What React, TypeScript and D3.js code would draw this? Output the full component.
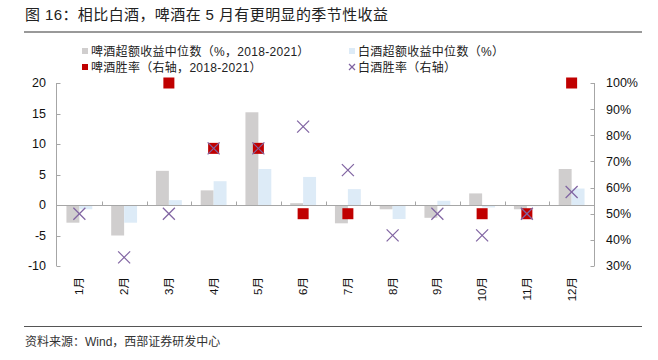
import React from 'react';
import * as d3 from 'd3';

const months = ['1月', '2月', '3月', '4月', '5月', '6月', '7月', '8月', '9月', '10月', '11月', '12月'];
const beerExcess = [-2.9, -5.0, 5.6, 2.4, 15.2, 0.3, -3.0, -0.7, -2.1, 1.9, -0.7, 5.9];
const baijiuExcess = [-0.7, -2.9, 0.8, 3.9, 5.9, 4.6, 2.6, -2.3, 0.7, -0.4, -0.2, 2.7];
const beerWin = [0.25, 0.25, 1.0, 0.75, 0.75, 0.5, 0.5, 0.25, 0.25, 0.5, 0.5, 1.0];
const baijiuWin = [0.5, 0.333, 0.5, 0.75, 0.75, 0.833, 0.667, 0.417, 0.5, 0.417, 0.5, 0.583];
const leftTicks = [-10, -5, 0, 5, 10, 15, 20];
const rightTicks = [0.3, 0.4, 0.5, 0.6, 0.7, 0.8, 0.9, 1.0];

const FONT = '"Liberation Sans", Arial, "Noto Sans CJK SC", sans-serif';
const GREY = '#D0CECE';
const BLUE = '#DDEBF7';
const RED = '#C00000';
const PURPLE = '#8064A2';
const AXIS = '#A6A6A6';

const App = () => {
  const W = 658;
  const H = 360;
  const plot = { left: 57, right: 594, top: 83, bottom: 266 };

  // scales
  const x = d3.scaleBand<string>().domain(months).range([plot.left, plot.right]).padding(0);
  const sub = d3
    .scaleBand<string>()
    .domain(['beer', 'baijiu'])
    .range([0, x.bandwidth()])
    .paddingInner(0)
    .paddingOuter(0.73);
  const yL = d3.scaleLinear().domain([-10, 20]).range([plot.bottom, plot.top]);
  const yR = d3.scaleLinear().domain([0.3, 1.0]).range([plot.bottom, plot.top]);
  const y0 = yL(0);
  const cx = (m: string) => (x(m) as number) + x.bandwidth() / 2;

  const sq = 11;
  const xs = 6;

  const cross = (px: number, py: number, r: number, key: string) => (
    <g key={key} stroke={PURPLE} strokeWidth={1.2}>
      <line x1={px - r} y1={py - r} x2={px + r} y2={py + r} />
      <line x1={px - r} y1={py + r} x2={px + r} y2={py - r} />
    </g>
  );

  return (
    <svg
      width={W}
      height={H}
      style={{ position: 'absolute', left: 0, top: 0, background: '#fff' }}
      fontFamily={FONT}
    >
      {/* title */}
      <text x={25} y={20} fontSize={15} letterSpacing={0.4} fill="#222">
        图 16：相比白酒，啤酒在 5 月有更明显的季节性收益
      </text>
      <line x1={24} x2={642} y1={32} y2={32} stroke="#999" strokeWidth={2} />

      {/* legend */}
      <g fontSize={12} letterSpacing={0.3} fill="#222">
        <rect x={82} y={48} width={6} height={6} fill={GREY} />
        <text x={91} y={55.5}>啤酒超额收益中位数（%，2018-2021）</text>
        <rect x={349} y={48} width={6} height={6} fill={BLUE} />
        <text x={358} y={55.5}>白酒超额收益中位数（%）</text>
        <rect x={82} y={64} width={6} height={6} fill={RED} />
        <text x={91} y={71.5}>啤酒胜率（右轴，2018-2021）</text>
        {cross(352, 67, 3, 'lg')}
        <text x={358} y={71.5}>白酒胜率（右轴）</text>
      </g>

      {/* bars */}
      {months.map((m, i) => {
        const bx = x(m) as number;
        return (
          <g key={m}>
            <rect
              x={bx + (sub('beer') as number)}
              y={Math.min(yL(beerExcess[i]), y0)}
              width={sub.bandwidth()}
              height={Math.abs(yL(beerExcess[i]) - y0)}
              fill={GREY}
            />
            <rect
              x={bx + (sub('baijiu') as number)}
              y={Math.min(yL(baijiuExcess[i]), y0)}
              width={sub.bandwidth()}
              height={Math.abs(yL(baijiuExcess[i]) - y0)}
              fill={BLUE}
            />
          </g>
        );
      })}

      {/* axes */}
      <g stroke={AXIS} strokeWidth={1} fill="none">
        <line x1={plot.left - 0.5} x2={plot.left - 0.5} y1={plot.top} y2={plot.bottom} />
        {leftTicks.map((t) => (
          <line key={t} x1={plot.left - 0.5} x2={plot.left + 3.5} y1={Math.round(yL(t)) + 0.5} y2={Math.round(yL(t)) + 0.5} />
        ))}
        <line x1={plot.right + 0.5} x2={plot.right + 0.5} y1={plot.top} y2={plot.bottom} />
        {rightTicks.map((t) => (
          <line key={t} x1={plot.right - 3.5} x2={plot.right + 0.5} y1={Math.round(yR(t)) + 0.5} y2={Math.round(yR(t)) + 0.5} />
        ))}
        <line x1={plot.left} x2={plot.right} y1={Math.round(y0) + 0.5} y2={Math.round(y0) + 0.5} />
        {months.map((m) => (
          <line
            key={m}
            x1={Math.round((x(m) as number) + x.bandwidth()) + 0.5}
            x2={Math.round((x(m) as number) + x.bandwidth()) + 0.5}
            y1={Math.round(y0) + 0.5}
            y2={Math.round(y0) - 3.5}
          />
        ))}
      </g>

      {/* tick labels */}
      <g fontSize={12.5} fill="#111">
        {leftTicks.map((t) => (
          <text key={t} x={46} y={yL(t)} dy="0.35em" textAnchor="end">
            {t}
          </text>
        ))}
        {rightTicks.map((t) => (
          <text key={t} x={606} y={yR(t)} dy="0.35em">
            {d3.format('.0%')(t)}
          </text>
        ))}
      </g>
      <g fontSize={11.5} fill="#111">
        {months.map((m) => (
          <text key={m} transform={`translate(${cx(m)},277) rotate(-90)`} dy="0.35em" textAnchor="end">
            {m}
          </text>
        ))}
      </g>

      {/* markers */}
      {months.map((m, i) =>
        beerWin[i] >= 0.3 ? (
          <rect key={'b' + m} x={cx(m) - sq / 2} y={yR(beerWin[i]) - sq / 2} width={sq} height={sq} fill={RED} />
        ) : null
      )}
      {months.map((m, i) => (baijiuWin[i] >= 0.3 ? cross(cx(m), yR(baijiuWin[i]), xs, 'x' + m) : null))}

      {/* source */}
      <line x1={24} x2={642} y1={326.5} y2={326.5} stroke="#555" strokeWidth={1} />
      <text x={25} y={346} fontSize={12} fill="#333">
        资料来源：Wind，西部证券研发中心
      </text>
    </svg>
  );
};

export default App;
